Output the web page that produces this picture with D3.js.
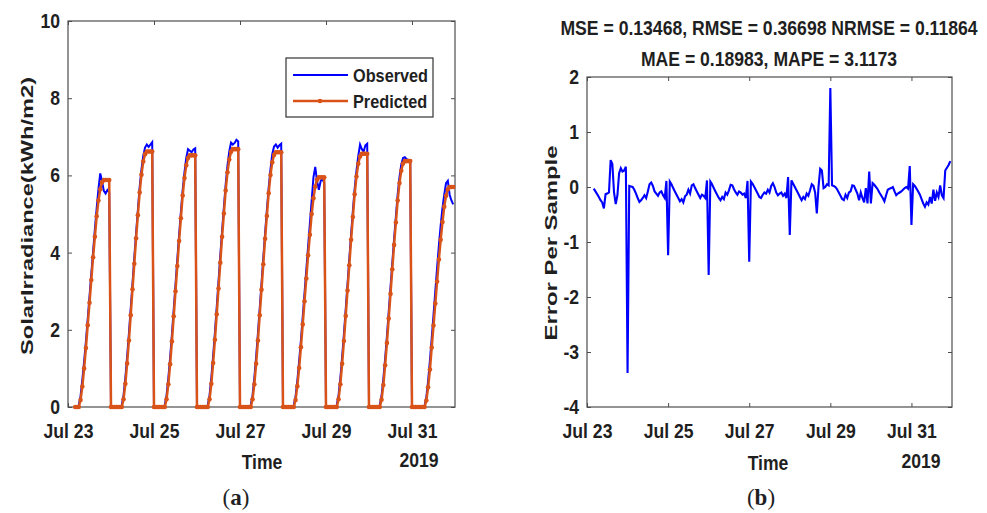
<!DOCTYPE html>
<html>
<head>
<meta charset="utf-8">
<script src="https://cdn.jsdelivr.net/npm/d3@7"></script>
<style>
  body { margin: 0; background: #fff; }
  text { font-family: 'Liberation Sans', Arial, sans-serif; font-weight: bold; fill: #1f1f1f; }
</style>
</head>
<body>
<svg id="chart"></svg>
<script>
(() => {
// hourly samples, first one at Jul 23 04:00
let startTime = new Date(2019, 6, 23, 4);

let xTickDates = [new Date(2019, 6, 23), new Date(2019, 6, 25), new Date(2019, 6, 27), new Date(2019, 6, 29), new Date(2019, 6, 31)];
let xTickLabels = ['Jul 23', 'Jul 25', 'Jul 27', 'Jul 29', 'Jul 31'];
let leftYTicks = [0, 2, 4, 6, 8, 10];
let rightYTicks = [-4, -3, -2, -1, 0, 1, 2];

let observed = [
  // Jul 23 (from 04:00)
  0, 0, 0.04, 0.28, 0.7, 1.18, 1.7, 2.28, 2.86, 3.45, 4.02, 4.6, 5.15, 5.65, 6.05, 5.85, 5.6, 5.53, 5.62, 5.57,
  // Jul 24
  0, 0, 0, 0, 0, 0, 0.05, 0.3, 0.75, 1.3, 1.9, 2.55, 3.2, 3.87, 4.5, 5.1, 5.7, 6.15, 6.5, 6.72, 6.8, 6.74, 6.8, 6.86,
  // Jul 25
  0, 0, 0, 0, 0, 0, 0.05, 0.3, 0.74, 1.28, 1.88, 2.52, 3.17, 3.82, 4.45, 5.05, 5.62, 6.07, 6.45, 6.68, 6.64, 6.6, 6.67, 6.7,
  // Jul 26
  0, 0, 0, 0, 0, 0, 0.05, 0.3, 0.76, 1.32, 1.93, 2.58, 3.25, 3.92, 4.56, 5.17, 5.76, 6.25, 6.62, 6.85, 6.8, 6.84, 6.92, 6.88,
  // Jul 27
  0, 0, 0, 0, 0, 0, 0.05, 0.3, 0.75, 1.3, 1.9, 2.55, 3.2, 3.86, 4.5, 5.1, 5.68, 6.15, 6.55, 6.75, 6.8, 6.72, 6.78, 6.82,
  // Jul 28
  0, 0, 0, 0, 0, 0, 0.04, 0.27, 0.68, 1.18, 1.73, 2.33, 2.94, 3.55, 4.15, 4.75, 5.35, 5.95, 6.22, 5.85, 5.63, 5.85, 5.92, 5.8,
  // Jul 29
  0, 0, 0, 0, 0, 0, 0.05, 0.3, 0.74, 1.29, 1.89, 2.53, 3.18, 3.83, 4.47, 5.08, 5.65, 6.12, 6.5, 6.8, 6.68, 6.62, 6.78, 6.82,
  // Jul 30
  0, 0, 0, 0, 0, 0, 0.05, 0.29, 0.72, 1.25, 1.83, 2.46, 3.1, 3.73, 4.35, 4.93, 5.5, 5.95, 6.28, 6.45, 6.47, 6.42, 6.4, 6.38,
  // Jul 31
  0, 0, 0, 0, 0, 0, 0, 0.03, 0.25, 0.68, 1.2, 1.78, 2.38, 3.0, 3.6, 4.18, 4.7, 5.15, 5.5, 5.8, 5.86, 5.5, 5.35, 5.25
];

let predicted = [
  0, 0, 0, 0.18, 0.53, 1.0, 1.53, 2.12, 2.7, 3.29, 3.88, 4.41, 4.94, 5.35, 5.64, 5.82, 5.88, 5.88, 5.88, 5.88,
  0, 0, 0, 0, 0, 0, 0, 0.2, 0.6, 1.13, 1.72, 2.38, 3.05, 3.71, 4.37, 4.97, 5.56, 6.02, 6.36, 6.55, 6.62, 6.62, 6.62, 6.62,
  0, 0, 0, 0, 0, 0, 0, 0.2, 0.59, 1.11, 1.7, 2.35, 3.0, 3.65, 4.3, 4.89, 5.48, 5.93, 6.26, 6.45, 6.52, 6.52, 6.52, 6.52,
  0, 0, 0, 0, 0, 0, 0, 0.2, 0.6, 1.14, 1.74, 2.4, 3.07, 3.74, 4.41, 5.01, 5.61, 6.08, 6.41, 6.61, 6.68, 6.68, 6.68, 6.68,
  0, 0, 0, 0, 0, 0, 0, 0.2, 0.59, 1.12, 1.72, 2.38, 3.04, 3.7, 4.36, 4.95, 5.54, 6.01, 6.34, 6.53, 6.6, 6.6, 6.6, 6.6,
  0, 0, 0, 0, 0, 0, 0, 0.18, 0.54, 1.01, 1.55, 2.14, 2.74, 3.33, 3.93, 4.46, 5.0, 5.41, 5.71, 5.89, 5.95, 5.95, 5.95, 5.95,
  0, 0, 0, 0, 0, 0, 0, 0.2, 0.59, 1.12, 1.71, 2.36, 3.02, 3.67, 4.33, 4.92, 5.51, 5.97, 6.3, 6.49, 6.56, 6.56, 6.56, 6.56,
  0, 0, 0, 0, 0, 0, 0, 0.19, 0.57, 1.08, 1.66, 2.29, 2.93, 3.57, 4.2, 4.78, 5.35, 5.8, 6.12, 6.31, 6.37, 6.37, 6.37, 6.37,
  0, 0, 0, 0, 0, 0, 0, 0, 0.17, 0.51, 0.97, 1.54, 2.11, 2.68, 3.25, 3.82, 4.33, 4.79, 5.19, 5.47, 5.64, 5.7, 5.7, 5.7
];

let errorPerSample = [
  -0.03, -0.08, -0.13, -0.18, -0.24, -0.28, -0.39, -0.13, -0.12, -0.1, 0.49, 0.42, -0.1, -0.31, -0.15, 0.25, 0.34, 0.28, 0.3, 0.37,
  -3.38, 0.02, 0.01, 0.0, -0.05, -0.12, -0.2, -0.27, -0.24, -0.2, -0.15, -0.2, -0.08, 0.05, 0.08, 0.02, -0.08, -0.12, -0.16, -0.1, -0.08, -0.15, -0.2, 0.11,
  -1.24, 0.1, 0.05, -0.02, -0.08, -0.14, -0.2, -0.26, -0.22, -0.28, -0.17, -0.14, -0.05, -0.12, 0.03, 0.05, -0.02, -0.08, -0.14, -0.2, -0.14, -0.16, -0.2, 0.12,
  -1.6, 0.1, 0.05, -0.02, -0.08, -0.14, -0.2, -0.24, -0.18, -0.22, -0.1, -0.14, -0.06, 0.04, 0.03, -0.04, -0.1, -0.14, -0.08, -0.1, -0.14, -0.12, -0.2, 0.11,
  -1.36, 0.1, 0.06, 0.0, -0.06, -0.12, -0.18, -0.2, -0.14, -0.1, -0.12, -0.05, -0.1, 0.02, 0.07, 0.0, -0.1, -0.15, -0.12, -0.1, -0.16, -0.12, -0.2, 0.18,
  -0.87, 0.12, 0.06, 0.0, -0.06, -0.12, -0.18, -0.24, -0.18, -0.22, -0.12, -0.16, -0.06, 0.05, 0.02, -0.1, -0.48, 0.0, 0.33, 0.3, -0.02, 0.0, 0.05, 0.03,
  1.8, 0.03, 0.02, 0.0, -0.04, -0.1, -0.16, -0.22, -0.24, -0.14, -0.2, -0.1, -0.08, 0.03, 0.02, -0.05, -0.12, -0.24, -0.1, -0.2, -0.28, -0.02, -0.3, 0.28,
  -0.3, 0.07, 0.04, 0.0, -0.04, -0.1, -0.15, -0.2, -0.26, -0.15, -0.05, -0.03, -0.02, 0.0, -0.08, -0.15, -0.12, -0.1, -0.08, -0.05, -0.02, 0.0, -0.03, 0.38,
  -0.69, 0.05, 0.02, -0.03, -0.08, -0.14, -0.22, -0.3, -0.36, -0.28, -0.32, -0.18, -0.3, -0.05, -0.25, -0.1, -0.18, 0.03, -0.15, -0.2, 0.3, 0.35, 0.4, 0.47
];

let titleLines = ['MSE = 0.13468, RMSE = 0.36698 NRMSE = 0.11864', 'MAE = 0.18983, MAPE = 3.1173'];

let width = 987, height = 513,
    squeeze = 'scale(0.88,1)',
    axisColor = '#4d4d4d',
    blue = '#0000ff',
    orange = '#d95319',
    xDomain = [new Date(2019, 6, 23), new Date(2019, 7, 1)];

let hourTime = i => d3.timeHour.offset(startTime, i);

let svg = d3.select('#chart')
    .attr('width', width)
    .attr('height', height);

function frame(box, yTicks, yDomain) {
  let x = d3.scaleTime().domain(xDomain).range([box.left, box.right]);
  let y = d3.scaleLinear().domain(yDomain).range([box.bottom, box.top]);

  let g = svg.append('g');

  g.append('g')
      .attr('transform', `translate(0,${box.bottom})`)
      .call(d3.axisBottom(x).tickValues(xTickDates).tickSize(-4).tickPadding(17)
        .tickFormat((d, i) => xTickLabels[i]));
  g.append('g')
      .attr('transform', `translate(0,${box.top})`)
      .call(d3.axisTop(x).tickValues(xTickDates).tickSize(-4).tickFormat(''));
  g.append('g')
      .attr('transform', `translate(${box.left},0)`)
      .call(d3.axisLeft(y).tickValues(yTicks).tickSize(-4).tickPadding(9)
        .tickFormat(d => String(d)));
  g.append('g')
      .attr('transform', `translate(${box.right},0)`)
      .call(d3.axisRight(y).tickValues(yTicks).tickSize(-4).tickFormat(''));

  g.selectAll('.domain').remove();
  g.selectAll('.tick line').attr('stroke', axisColor);
  g.selectAll('.tick text')
      .attr('font-size', 20)
      .attr('font-family', null)
      .attr('fill', '#1f1f1f')
      .attr('transform', squeeze);

  g.append('rect')
      .attr('x', box.left)
      .attr('y', box.top)
      .attr('width', box.right - box.left)
      .attr('height', box.bottom - box.top)
      .attr('fill', 'none')
      .attr('stroke', axisColor)
      .attr('stroke-width', 1.2);

  return {g, x, y};
}

function label(str, x, y, size) {
  return svg.append('text')
      .attr('transform', `translate(${x},${y}) ${squeeze}`)
      .attr('text-anchor', 'middle')
      .attr('font-size', size)
      .text(str);
}

// (a) irradiance
let left = frame({left: 68, right: 455, top: 21, bottom: 407}, leftYTicks, [0, 10]);

let leftLine = d3.line()
    .x((d, i) => left.x(hourTime(i)))
    .y(d => left.y(d));

left.g.append('path')
    .datum(observed)
    .attr('d', leftLine)
    .attr('fill', 'none')
    .attr('stroke', blue)
    .attr('stroke-width', 2);

left.g.append('path')
    .datum(predicted)
    .attr('d', leftLine)
    .attr('fill', 'none')
    .attr('stroke', orange)
    .attr('stroke-width', 2.5);

left.g.selectAll('.marker')
    .data(predicted)
    .enter()
    .append('circle')
    .attr('class', 'marker')
    .attr('cx', (d, i) => left.x(hourTime(i)))
    .attr('cy', d => left.y(d))
    .attr('r', 2.3)
    .attr('fill', orange);

// legend
let legend = svg.append('g');
legend.append('rect')
    .attr('x', 286).attr('y', 58).attr('width', 147).attr('height', 59)
    .attr('fill', '#fff').attr('stroke', '#333').attr('stroke-width', 1.2);
[['Observed', blue, 75], ['Predicted', orange, 101]].forEach(([name, color, cy]) => {
  legend.append('line')
      .attr('x1', 293).attr('x2', 348).attr('y1', cy).attr('y2', cy)
      .attr('stroke', color).attr('stroke-width', color === blue ? 2 : 2.5);
  if (color === orange) {
    legend.append('circle').attr('cx', 320).attr('cy', cy).attr('r', 2.3).attr('fill', orange);
  }
  legend.append('text')
      .attr('transform', `translate(353,${cy + 6.5}) ${squeeze}`)
      .attr('font-size', 18.5)
      .text(name);
});

label('Time', 262, 469, 20);
label('2019', 419, 467, 20);
svg.append('text')
    .attr('transform', 'translate(33,216) rotate(-90) scale(1,0.88)')
    .attr('text-anchor', 'middle')
    .attr('font-size', 19)
    .attr('textLength', 278)
    .attr('lengthAdjust', 'spacingAndGlyphs')
    .text('SolarIrradiance(kWh/m2)');

// (b) error
let right = frame({left: 587, right: 952, top: 77, bottom: 407}, rightYTicks, [-4, 2]);

right.g.append('path')
    .datum(errorPerSample)
    .attr('d', d3.line()
      .x((d, i) => right.x(hourTime(i)))
      .y(d => right.y(d)))
    .attr('fill', 'none')
    .attr('stroke', blue)
    .attr('stroke-width', 2.1);

label(titleLines[0], 769, 35, 20);
label(titleLines[1], 769, 65.5, 20);
label('Time', 768, 470, 20);
label('2019', 921, 468, 20);
svg.append('text')
    .attr('transform', 'translate(557,243) rotate(-90) scale(1,0.88)')
    .attr('text-anchor', 'middle')
    .attr('font-size', 19)
    .attr('textLength', 195)
    .attr('lengthAdjust', 'spacingAndGlyphs')
    .text('Error Per Sample');

// panel captions
[['a', 236], ['b', 761]].forEach(([letter, cx]) => {
  let t = svg.append('text')
      .attr('x', cx).attr('y', 505)
      .attr('text-anchor', 'middle')
      .attr('font-size', 23)
      .style('font-family', "'Liberation Serif', 'DejaVu Serif', serif")
      .style('font-weight', 'normal');
  t.append('tspan').text('(');
  t.append('tspan').style('font-weight', 'bold').text(letter);
  t.append('tspan').text(')');
});
})();
</script>
</body>
</html>
